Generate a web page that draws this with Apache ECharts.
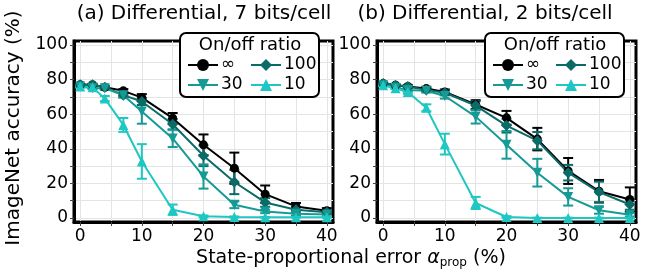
<!DOCTYPE html>
<html>
<head>
<meta charset="utf-8">
<script src="https://cdn.jsdelivr.net/npm/echarts@6/dist/echarts.min.js"></script>
<style>
  html, body { margin: 0; padding: 0; background: #fff; }
  #chart { width: 655px; height: 273px; }
</style>
</head>
<body>
<div id="chart"></div>
<script>
// state-proportional error (%)
const errorLevels = [0, 2, 4, 7, 10, 15, 20, 25, 30, 35, 40];

// (a) differential, 7 bits/cell
const accA_inf = [77, 77, 75.6, 73.5, 69.6, 57.7, 42.3, 28.8, 13.8, 6.7, 4.2];
const sdA_inf = [0.5, 0.5, 0.8, 1, 2, 3, 6, 9, 5, 2, 1.5];
const accA_100 = [77, 77, 75.6, 71, 67.3, 54.2, 36, 20.8, 9, 4.8, 3.3];
const sdA_100 = [0.5, 0.5, 0.8, 1, 2, 3, 6, 7, 2.5, 1.5, 1];
const accA_30 = [76, 75, 75, 71, 61.5, 46, 24, 7.7, 3.8, 2.5, 2];
const sdA_30 = [0.5, 0.5, 1, 1.5, 7, 5, 7, 2, 1, 1, 1];
const accA_10 = [76, 75.6, 69, 53.8, 32.7, 4.8, 1, 0.6, 0.4, 0.4, 0.4];
const sdA_10 = [0.5, 0.5, 1.5, 4, 10, 3, 0.5, 0.3, 0.2, 0.2, 0.2];

// (b) differential, 2 bits/cell
const accB_inf = [77.7, 76.7, 76, 74.8, 72.8, 65.6, 57.9, 45.6, 27.2, 15.5, 10.7];
const sdB_inf = [0.5, 0.5, 0.8, 1, 1.5, 2.5, 4, 6.5, 7.5, 6.5, 7];
const accB_100 = [77.7, 76.7, 76, 74, 72.4, 65, 53.4, 44.7, 26.2, 15, 7.8];
const sdB_100 = [0.5, 0.5, 0.8, 1, 1.5, 2.5, 4, 5, 4.5, 6, 3];
const accB_30 = [76.7, 75.3, 74, 73.5, 70.5, 58.6, 42.3, 26.2, 12.2, 4.5, 1.9];
const sdB_30 = [0.5, 0.5, 1, 1, 1.5, 4, 8, 8, 5, 2, 1];
const accB_10 = [76.7, 75, 72.8, 63.7, 42.7, 8.7, 0.6, 0, 0, 0, 0];
const sdB_10 = [0.5, 0.5, 1, 2, 6, 3.5, 0.5, 0.2, 0.2, 0.2, 0.2];

const ratioNames = ["∞", "100", "30", "10"];
const xTicks = [0, 5, 10, 15, 20, 25, 30, 35, 40];
const xLabels = [0, 10, 20, 30, 40];
const yTicks = [0, 10, 20, 30, 40, 50, 60, 70, 80, 90, 100];
const yLabels = [0, 20, 40, 60, 80, 100];

const FONT = "DejaVu Sans";
const colors = ["#000000", "#0b6b67", "#169a95", "#1ec7c2"];
const symbols = ["circle", "diamond", "triangle", "triangle"];
const symbolSizes = [9, 11, 10, 10];
const rotations = [0, 0, 180, 0];

const chart = echarts.init(document.getElementById("chart"));

function errRender(color) {
  return function (params, api) {
    const x = api.value(0);
    const hi = api.coord([x, api.value(2)]);
    const lo = api.coord([x, api.value(1)]);
    const style = { stroke: color, lineWidth: 2 };
    return {
      type: "group",
      children: [
        { type: "line", shape: { x1: hi[0], y1: hi[1], x2: lo[0], y2: lo[1] }, style },
        { type: "line", shape: { x1: hi[0] - 5, y1: hi[1], x2: hi[0] + 5, y2: hi[1] }, style },
        { type: "line", shape: { x1: lo[0] - 5, y1: lo[1], x2: lo[0] + 5, y2: lo[1] }, style },
      ],
    };
  };
}

function panelSeries(idx, accs, sds) {
  const out = [];
  accs.forEach((acc, i) => {
    const sd = sds[i];
    out.push({
      name: "err " + ratioNames[i],
      type: "custom",
      xAxisIndex: idx,
      yAxisIndex: idx,
      renderItem: errRender(colors[i]),
      encode: { x: 0, y: [1, 2] },
      data: errorLevels.map((x, j) => [x, acc[j] - sd[j], acc[j] + sd[j]]),
      silent: true,
    });
    out.push({
      name: ratioNames[i],
      type: "line",
      xAxisIndex: idx,
      yAxisIndex: idx,
      data: errorLevels.map((x, j) => [x, acc[j]]),
      symbol: symbols[i],
      symbolSize: symbolSizes[i],
      symbolRotate: rotations[i],
      lineStyle: { color: colors[i], width: 2 },
      itemStyle: { color: colors[i] },
      animation: false,
    });
  });
  return out;
}

function xAxis(idx) {
  return {
    type: "value",
    gridIndex: idx,
    min: -1,
    max: 41,
    splitNumber: 8,
    axisLine: { show: true, onZero: false, lineStyle: { color: "#000", width: 3 } },
    axisTick: { show: true, length: 4, customValues: xTicks, lineStyle: { color: "#444", width: 1 } },
    axisLabel: { customValues: xLabels, color: "#000", fontSize: 17, fontFamily: FONT, margin: 6 },
    splitLine: { show: true, lineStyle: { color: "#e4e4e4", width: 1 } },
  };
}

function yAxis(idx) {
  return {
    type: "value",
    gridIndex: idx,
    min: -2.3,
    max: 102.3,
    splitNumber: 10,
    axisLine: { show: true, onZero: false, lineStyle: { color: "#000", width: 3 } },
    axisTick: { show: true, length: 4, customValues: yTicks, lineStyle: { color: "#444", width: 1 } },
    axisLabel: { customValues: yLabels, color: "#000", fontSize: 17, fontFamily: FONT, margin: 6 },
    splitLine: { show: true, lineStyle: { color: "#e4e4e4", width: 1 } },
  };
}

function legendCol(left, names) {
  return {
    left: left,
    top: 55,
    orient: "vertical",
    padding: 0,
    itemGap: 0,
    itemWidth: 30,
    itemHeight: 15,
    z: 10,
    data: names,
    selectedMode: false,
    textStyle: { fontFamily: FONT, fontSize: 17, color: "#000", lineHeight: 20, padding: [0, 0, 0, -2] },
  };
}

function legendBox(x) {
  return [
    {
      type: "rect",
      z: 8,
      shape: { x: x, y: 33, width: 139, height: 64, r: 6 },
      style: { fill: "#fff", stroke: "#000", lineWidth: 2 },
    },
    {
      type: "text",
      z: 9,
      style: {
        text: "On/off ratio",
        x: x + 70,
        y: 45,
        align: "center",
        verticalAlign: "middle",
        font: "18px " + FONT,
        fill: "#000",
      },
    },
  ];
}

chart.setOption({
  animation: false,
  grid: [
    { left: 74, top: 41, width: 259, height: 181, show: true, borderColor: "#000", borderWidth: 3, backgroundColor: "transparent" },
    { left: 377, top: 41, width: 259, height: 181, show: true, borderColor: "#000", borderWidth: 3, backgroundColor: "transparent" },
  ],
  xAxis: [xAxis(0), xAxis(1)],
  yAxis: [yAxis(0), yAxis(1)],
  legend: [
    legendCol(187, ["∞", "30"]),
    legendCol(250, ["100", "10"]),
    legendCol(492, ["∞", "30"]),
    legendCol(555, ["100", "10"]),
  ],
  graphic: [
    ...legendBox(180),
    ...legendBox(485),
    {
      type: "text",
      style: { text: "(a) Differential, 7 bits/cell", x: 204, y: 14, align: "center", verticalAlign: "middle", font: "20px " + FONT, fill: "#000" },
    },
    {
      type: "text",
      style: { text: "(b) Differential, 2 bits/cell", x: 485, y: 14, align: "center", verticalAlign: "middle", font: "20px " + FONT, fill: "#000" },
    },
    {
      type: "text",
      x: 14,
      y: 128,
      rotation: Math.PI / 2,
      style: { text: "ImageNet accuracy (%)", x: 0, y: 0, align: "center", verticalAlign: "middle", font: "20px " + FONT, fill: "#000" },
    },
    {
      type: "text",
      style: {
        text: "State-proportional error {a|α}{s|prop} (%)",
        x: 351,
        y: 258,
        align: "center",
        verticalAlign: "middle",
        font: "19px " + FONT,
        fill: "#000",
        lineHeight: 22,
        rich: {
          a: { fontFamily: FONT, fontSize: 19, fontStyle: "italic", lineHeight: 22 },
          s: { fontFamily: FONT, fontSize: 12, lineHeight: 6, verticalAlign: "bottom" },
        },
      },
    },
  ],
  series: [
    ...panelSeries(0, [accA_inf, accA_100, accA_30, accA_10], [sdA_inf, sdA_100, sdA_30, sdA_10]),
    ...panelSeries(1, [accB_inf, accB_100, accB_30, accB_10], [sdB_inf, sdB_100, sdB_30, sdB_10]),
  ],
});
</script>
</body>
</html>
